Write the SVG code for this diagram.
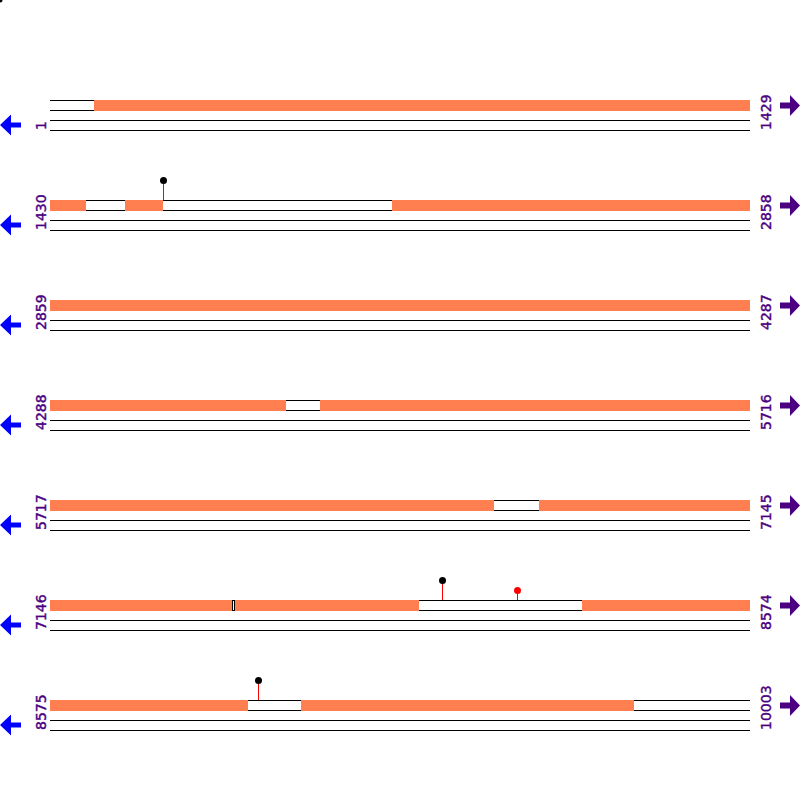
<svg xmlns="http://www.w3.org/2000/svg" width="800" height="800" viewBox="0 0 800 800">
<style>
.bg{fill:#fff}
.ln{stroke:#000;stroke-width:1;fill:none}
.cds{fill:#FF7F50;stroke:none}
.gap{fill:#fff;stroke:#000;stroke-width:1}
.lbl{font-family:"DejaVu Sans",sans-serif;font-size:14px;fill:#4B0082;stroke:#4B0082;stroke-width:0.4}
.la{fill:#0000FF}
.ra{fill:#4B0082}
.stem{stroke:#FF0000;stroke-width:1}
.hb{fill:#000}
.hr{fill:#FF0000}
</style>
<defs>
<g id="lines">
<line class="ln" x1="50" y1="100.5" x2="750" y2="100.5"/>
<line class="ln" x1="50" y1="110.5" x2="750" y2="110.5"/>
<line class="ln" x1="50" y1="120.5" x2="750" y2="120.5"/>
<line class="ln" x1="50" y1="130.5" x2="750" y2="130.5"/>
</g>
<polygon id="larrow" class="la" points="0,125 11,114.5 11,122.5 21,122.5 21,127.5 11,127.5 11,135.5"/>
<polygon id="rarrow" class="ra" points="780,102.5 790,102.5 790,95 800,105.5 790,116 790,108.5 780,108.5"/>
</defs>
<rect class="bg" x="0" y="0" width="800" height="800"/>
<circle cx="0" cy="0" r="2.5" fill="#000"/>

<g id="row1">
<use href="#lines"/>
<rect class="cds" x="94" y="100" width="656" height="11"/>
<use href="#larrow"/><use href="#rarrow"/>
<text class="lbl" transform="translate(46,130) rotate(-90)">1</text>
<text class="lbl" transform="translate(771,130) rotate(-90)">1429</text>
</g>

<g id="row2" transform="translate(0,100)">
<use href="#lines"/>
<rect class="cds" x="50" y="100" width="36" height="11"/>
<rect class="cds" x="125" y="100" width="38" height="11"/>
<rect class="cds" x="392" y="100" width="358" height="11"/>
<use href="#larrow"/><use href="#rarrow"/>
<text class="lbl" transform="translate(46,130) rotate(-90)">1430</text>
<text class="lbl" transform="translate(771,130) rotate(-90)">2858</text>
<g id="site1"><line class="stem" x1="163.5" y1="82" x2="163.5" y2="100"/><circle class="hb" cx="163.5" cy="80.5" r="3.5"/></g>
</g>

<g id="row3" transform="translate(0,200)">
<use href="#lines"/>
<rect class="cds" x="50" y="100" width="700" height="11"/>
<use href="#larrow"/><use href="#rarrow"/>
<text class="lbl" transform="translate(46,130) rotate(-90)">2859</text>
<text class="lbl" transform="translate(771,130) rotate(-90)">4287</text>
</g>

<g id="row4" transform="translate(0,300)">
<use href="#lines"/>
<rect class="cds" x="50" y="100" width="236" height="11"/>
<rect class="cds" x="320" y="100" width="430" height="11"/>
<use href="#larrow"/><use href="#rarrow"/>
<text class="lbl" transform="translate(46,130) rotate(-90)">4288</text>
<text class="lbl" transform="translate(771,130) rotate(-90)">5716</text>
</g>

<g id="row5" transform="translate(0,400)">
<use href="#lines"/>
<rect class="cds" x="50" y="100" width="444" height="11"/>
<rect class="cds" x="539" y="100" width="211" height="11"/>
<use href="#larrow"/><use href="#rarrow"/>
<text class="lbl" transform="translate(46,130) rotate(-90)">5717</text>
<text class="lbl" transform="translate(771,130) rotate(-90)">7145</text>
</g>

<g id="row6" transform="translate(0,500)">
<use href="#lines"/>
<rect class="cds" x="50" y="100" width="182" height="11"/>
<rect class="gap" x="232.5" y="100.5" width="2" height="10"/>
<rect class="cds" x="235" y="100" width="184" height="11"/>
<rect class="cds" x="582" y="100" width="168" height="11"/>
<use href="#larrow"/><use href="#rarrow"/>
<text class="lbl" transform="translate(46,130) rotate(-90)">7146</text>
<text class="lbl" transform="translate(771,130) rotate(-90)">8574</text>
<g id="site2"><line class="stem" x1="442.5" y1="82" x2="442.5" y2="100"/><circle class="hb" cx="442.5" cy="80.5" r="3.5"/></g>
<g id="site3"><line class="stem" x1="517.5" y1="92" x2="517.5" y2="100"/><circle class="hr" cx="517.5" cy="90.5" r="3.5"/></g>
</g>

<g id="row7" transform="translate(0,600)">
<use href="#lines"/>
<rect class="cds" x="50" y="100" width="198" height="11"/>
<rect class="cds" x="301" y="100" width="333" height="11"/>
<use href="#larrow"/><use href="#rarrow"/>
<text class="lbl" transform="translate(46,130) rotate(-90)">8575</text>
<text class="lbl" transform="translate(771,130) rotate(-90)">10003</text>
<g id="site4"><line class="stem" x1="258.5" y1="82" x2="258.5" y2="100"/><circle class="hb" cx="258.5" cy="80.5" r="3.5"/></g>
</g>
</svg>
